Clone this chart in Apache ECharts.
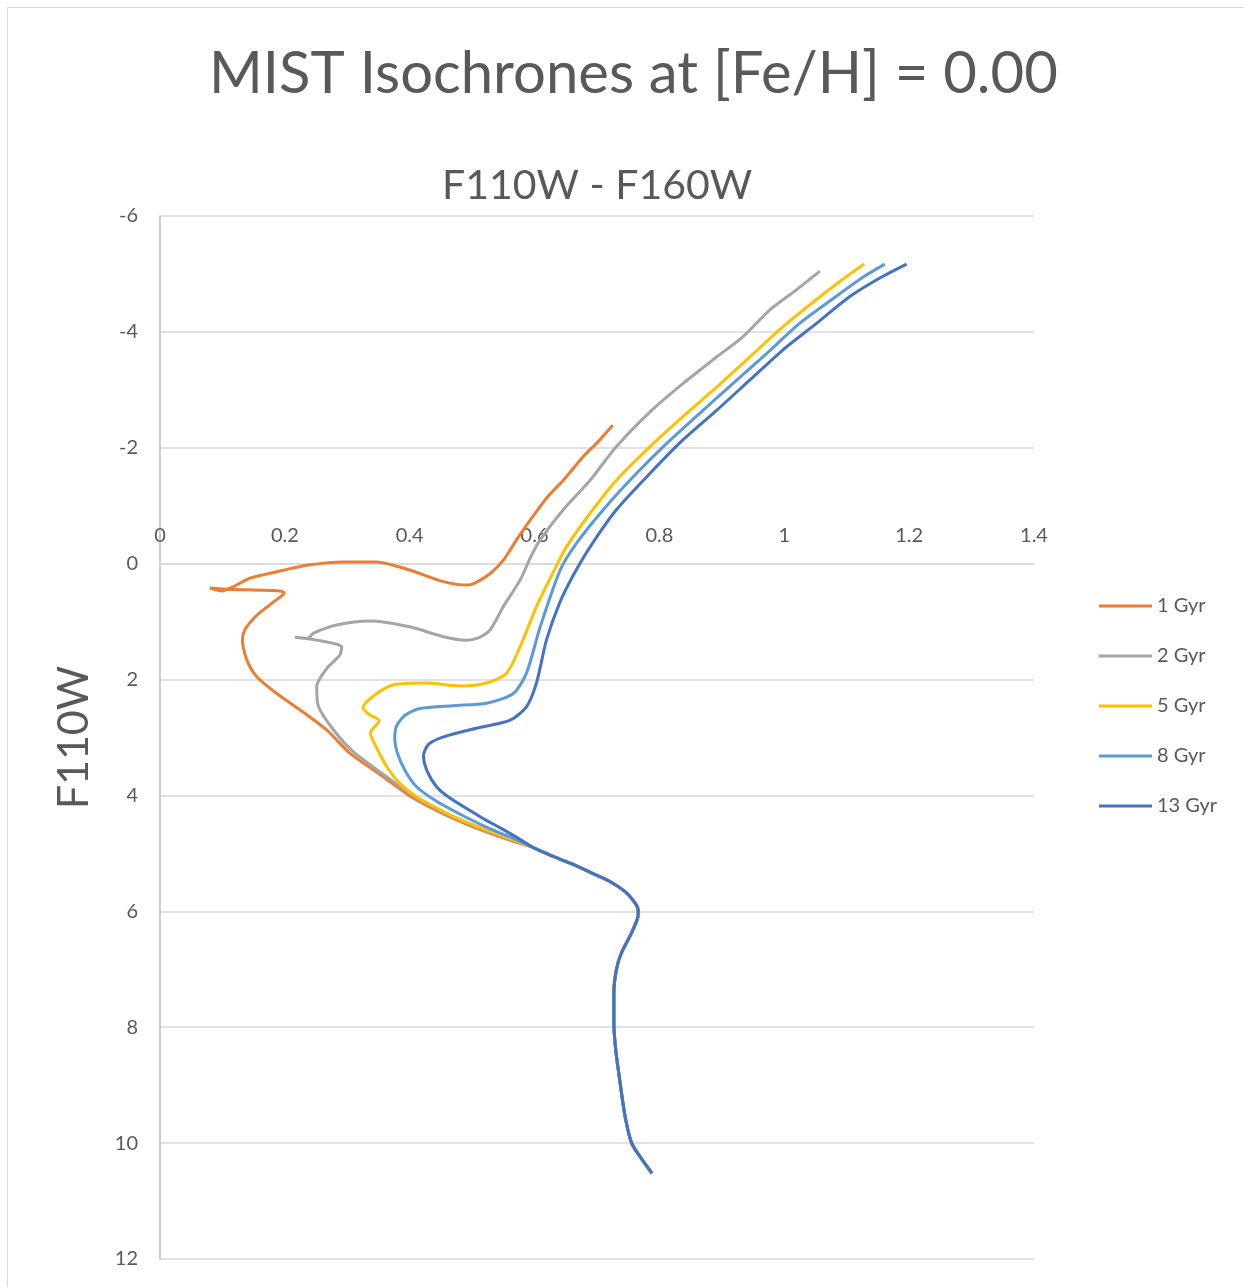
<!DOCTYPE html>
<html>
<head>
<meta charset="utf-8">
<script src="https://cdn.jsdelivr.net/npm/echarts@6/dist/echarts.min.js"></script>
<style>
html,body{margin:0;padding:0;background:#fff;}
#frame{position:absolute;left:7px;top:7px;width:1260px;height:1300px;border:1px solid #d9d9d9;box-sizing:border-box;}
#chart{position:absolute;left:0;top:0;width:1244px;height:1287px;}
</style>
</head>
<body>
<div id="frame"></div>
<div id="chart"></div>
<script>
const seriesNames = ['1 Gyr', '2 Gyr', '5 Gyr', '8 Gyr', '13 Gyr'];
const seriesColors = ['#ED7D31', '#A5A5A5', '#FFC000', '#5B9BD5', '#4472C4'];
const xTicks = [0, 0.2, 0.4, 0.6, 0.8, 1, 1.2, 1.4];
const yTicks = [-6, -4, -2, 0, 2, 4, 6, 8, 10, 12];

// shared lower main sequence (all ages overlap here)
const lowerMainSequence = [
  [0.598,4.90],[0.625,5.03],[0.657,5.17],[0.690,5.33],[0.720,5.48],[0.745,5.66],
  [0.760,5.84],[0.766,5.98],[0.765,6.12],[0.755,6.38],[0.739,6.72],[0.731,7.01],
  [0.727,7.41],[0.727,7.93],[0.730,8.39],[0.737,8.96],[0.745,9.54],[0.7555,10.0],
  [0.770,10.25],[0.788,10.52]
];

const iso1Gyr = [
  [0.725,-2.39],[0.6995,-2.08],[0.678,-1.85],[0.646,-1.44],[0.619,-1.13],[0.593,-0.75],
  [0.571,-0.41],[0.550,-0.06],[0.529,0.17],[0.505,0.33],[0.491,0.37],[0.454,0.31],
  [0.400,0.11],[0.347,-0.03],[0.294,-0.03],[0.240,0.02],[0.187,0.14],[0.144,0.25],
  [0.117,0.40],[0.099,0.47],[0.080,0.42],[0.107,0.44],[0.192,0.47],[0.199,0.50],
  [0.182,0.66],[0.155,0.89],[0.136,1.14],[0.132,1.32],[0.139,1.66],[0.155,1.95],
  [0.187,2.24],[0.224,2.52],[0.267,2.87],[0.304,3.27],[0.358,3.68],[0.405,4.04],
  [0.460,4.35],[0.515,4.60],[0.560,4.77]
];

const iso2Gyr = [
  [1.057,-5.05],[1.015,-4.69],[0.977,-4.38],[0.934,-3.92],[0.892,-3.57],[0.838,-3.11],
  [0.785,-2.62],[0.731,-2.02],[0.689,-1.44],[0.646,-0.93],[0.609,-0.41],[0.594,-0.12],
  [0.577,0.28],[0.550,0.74],[0.529,1.14],[0.510,1.28],[0.491,1.32],[0.454,1.26],
  [0.400,1.09],[0.336,0.99],[0.283,1.06],[0.246,1.20],[0.236,1.29],[0.216,1.27],
  [0.251,1.32],[0.291,1.44],[0.288,1.58],[0.267,1.81],[0.251,2.12],[0.254,2.47],
  [0.278,2.87],[0.310,3.25],[0.362,3.67],[0.409,4.03],[0.463,4.34],[0.518,4.59],
  [0.562,4.76]
];

const iso5Gyr = [
  [1.128,-5.17],[1.089,-4.87],[1.047,-4.52],[0.998,-4.09],[0.945,-3.57],[0.892,-3.05],
  [0.838,-2.54],[0.785,-2.02],[0.731,-1.44],[0.689,-0.87],[0.651,-0.29],[0.632,0.10],
  [0.603,0.74],[0.577,1.43],[0.555,1.89],[0.523,2.06],[0.481,2.11],[0.427,2.06],
  [0.374,2.09],[0.347,2.24],[0.325,2.49],[0.336,2.61],[0.351,2.71],[0.337,2.92],
  [0.349,3.22],[0.363,3.50],[0.385,3.80],[0.415,4.05],[0.470,4.36],[0.522,4.59],
  [0.565,4.76]
];

const iso8Gyr = [
  [1.161,-5.17],[1.127,-4.95],[1.079,-4.58],[1.025,-4.15],[0.972,-3.63],[0.918,-3.11],
  [0.865,-2.60],[0.812,-2.08],[0.758,-1.50],[0.710,-0.93],[0.667,-0.35],[0.641,0.11],
  [0.609,1.09],[0.587,1.89],[0.566,2.24],[0.523,2.41],[0.470,2.45],[0.416,2.50],
  [0.392,2.62],[0.379,2.80],[0.376,3.02],[0.380,3.26],[0.392,3.56],[0.411,3.85],
  [0.443,4.10],[0.491,4.38],[0.530,4.58],[0.568,4.75]
];

const iso13Gyr = [
  [1.196,-5.17],[1.153,-4.93],[1.105,-4.61],[1.052,-4.15],[0.998,-3.69],[0.945,-3.17],
  [0.892,-2.65],[0.838,-2.14],[0.785,-1.56],[0.731,-0.93],[0.689,-0.29],[0.662,0.20],
  [0.640,0.68],[0.619,1.32],[0.603,2.06],[0.587,2.47],[0.561,2.70],[0.507,2.84],
  [0.454,2.99],[0.430,3.12],[0.422,3.32],[0.427,3.56],[0.443,3.85],[0.465,4.05],
  [0.518,4.40],[0.545,4.56],[0.574,4.74]
];

const upperParts = [iso1Gyr, iso2Gyr, iso5Gyr, iso8Gyr, iso13Gyr];

const chart = echarts.init(document.getElementById('chart'));
const textColor = '#595959';
const font = 'Lato, "Open Sans", sans-serif';

// plot area geometry: y axis runs from -6 (top) to 12 (bottom); x axis sits at y = 0
const gridTop = 216, gridBottom = 28, chartH = 1287;
const plotH = chartH - gridTop - gridBottom;
const zeroOffset = -plotH * (12 - 0) / (12 - (-6));

chart.setOption({
  animation: false,
  backgroundColor: 'transparent',
  textStyle: {fontFamily: font},
  title: [
    {text: 'MIST Isochrones at [Fe/H] = 0.00', left: 204, top: 40,
     textStyle: {fontSize: 58, fontWeight: 'normal', color: textColor, fontFamily: font}},
    {text: 'F110W - F160W', left: 437, top: 160,
     textStyle: {fontSize: 41, fontWeight: 'normal', color: textColor, fontFamily: font}}
  ],
  legend: {
    orient: 'vertical', left: 1094, top: 591,
    itemWidth: 53, itemHeight: 20, itemGap: 30,
    icon: 'path://M0,9 L53,9 L53,12 L0,12 Z',
    textStyle: {fontSize: 20, color: textColor, fontFamily: font, padding: [0,0,0,0]},
    data: seriesNames
  },
  grid: {left: 160, right: 210, top: gridTop, bottom: gridBottom, containLabel: false},
  xAxis: {
    type: 'value', min: 0, max: 1.4, interval: 0.2, position: 'bottom',
    offset: zeroOffset,
    axisLine: {show: true, onZero: false, lineStyle: {color: '#d9d9d9', width: 1.5}},
    axisTick: {show: false},
    splitLine: {show: false},
    axisLabel: {inside: true, fontSize: 20, color: textColor, margin: 18, fontFamily: font,
      formatter: v => xTicks.includes(+v.toFixed(1)) ? String(+v.toFixed(1)) : ''}
  },
  yAxis: {
    type: 'value', inverse: true, min: -6, max: 12, interval: 2,
    name: 'F110W', nameLocation: 'middle', nameRotate: 90, nameGap: 64,
    nameTextStyle: {fontSize: 43, color: textColor, fontFamily: font},
    axisLine: {show: true, onZero: false, lineStyle: {color: '#bfbfbf', width: 1.5}},
    axisTick: {show: false},
    splitLine: {show: true, lineStyle: {color: '#d9d9d9', width: 1.5}},
    axisLabel: {fontSize: 20, color: textColor, margin: 22, fontFamily: font,
      formatter: v => yTicks.includes(v) ? String(v) : ''}
  },
  series: seriesNames.map((name, i) => ({
    name: name, type: 'line', showSymbol: false, symbol: 'none',
    smooth: 0.25, z: 2 + i,
    lineStyle: {color: seriesColors[i], width: 3},
    itemStyle: {color: seriesColors[i]},
    data: upperParts[i].concat(lowerMainSequence)
  }))
});
</script>
</body>
</html>
